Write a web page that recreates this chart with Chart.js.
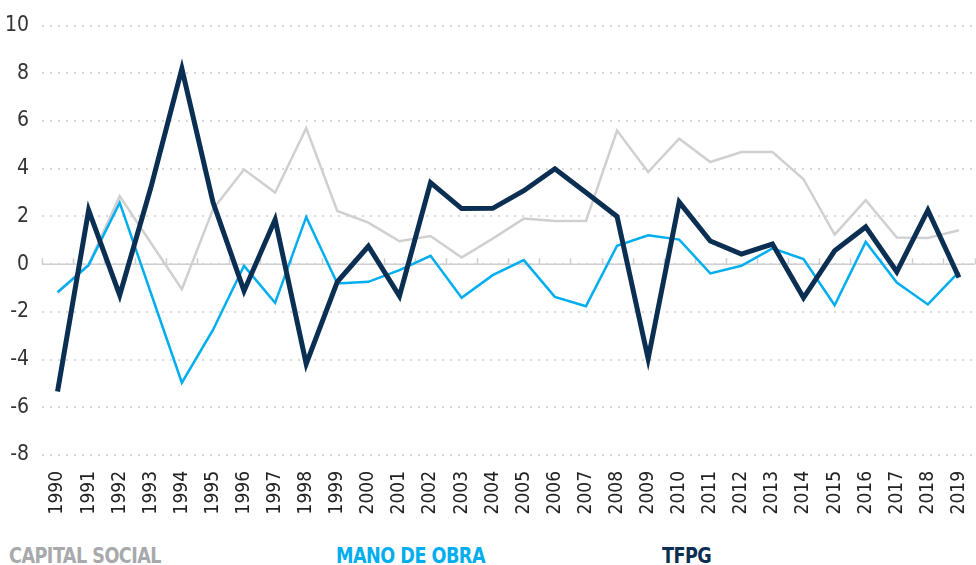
<!DOCTYPE html>
<html>
<head>
<meta charset="utf-8">
<script src="https://cdn.jsdelivr.net/npm/chart.js@4"></script>
<style>
    body { margin: 0; background: #fff; }
    #wrap { position: relative; width: 976px; height: 565px; overflow: hidden; }
    #chart { position: absolute; left: 0; top: 0; }
    .lg { position: absolute; top: 543px; font-family: "DejaVu Sans Condensed", "DejaVu Sans", sans-serif; font-weight: bold; font-size: 22px; letter-spacing: -0.6px; transform: scaleX(0.89); transform-origin: left top; white-space: nowrap; }
</style>
</head>
<body>
<div id="wrap">
    <canvas id="chart" width="976" height="520"></canvas>
    <div class="lg" style="left:9px;color:#a7a9ac">CAPITAL SOCIAL</div>
    <div class="lg" style="left:336px;color:#00aeef">MANO DE OBRA</div>
    <div class="lg" style="left:662px;color:#0b2f52">TFPG</div>
</div>
<script>
const years = ["1990","1991","1992","1993","1994","1995","1996","1997","1998","1999",
    "2000","2001","2002","2003","2004","2005","2006","2007","2008","2009",
    "2010","2011","2012","2013","2014","2015","2016","2017","2018","2019"];

const capitalSocial = [-1.2, 0.0, 2.85, 0.9, -1.05, 2.3, 3.97, 3.0, 5.7, 2.23,
    1.74, 0.96, 1.18, 0.28, 1.07, 1.91, 1.81, 1.81, 5.6, 3.86,
    5.26, 4.28, 4.7, 4.7, 3.56, 1.24, 2.68, 1.12, 1.1, 1.42];

const manoDeObra = [-1.18, -0.04, 2.58, -1.2, -4.97, -2.76, -0.07, -1.62, 1.98, -0.81,
    -0.74, -0.25, 0.35, -1.41, -0.46, 0.17, -1.37, -1.76, 0.77, 1.21,
    1.03, -0.39, -0.07, 0.66, 0.21, -1.72, 0.93, -0.77, -1.69, -0.32];

const tfpg = [-5.34, 2.26, -1.3, 3.2, 8.19, 2.6, -1.12, 1.87, -4.18, -0.74,
    0.75, -1.34, 3.42, 2.33, 2.34, 3.08, 4.0, 3.0, 2.0, -3.97,
    2.6, 0.97, 0.42, 0.84, -1.41, 0.56, 1.56, -0.32, 2.26, -0.56];

const yTicks = [-8, -6, -4, -2, 0, 2, 4, 6, 8, 10];

const fontFam = '"DejaVu Sans Condensed", "DejaVu Sans", sans-serif';

// zero line with small ticks between the years
const zeroAxis = {
    id: "zeroAxis",
    beforeDatasetsDraw(c) {
        const x = c.scales.x, y = c.scales.y, ctx = c.ctx;
        const y0 = y.getPixelForValue(0);
        const half = (x.getPixelForValue(1) - x.getPixelForValue(0)) / 2;
        ctx.save();
        ctx.strokeStyle = "#cfcfcf";
        ctx.lineWidth = 1.5;
        ctx.beginPath();
        ctx.moveTo(c.chartArea.left, y0);
        ctx.lineTo(c.chartArea.right, y0);
        for (let i = 0; i <= years.length; i++) {
            const px = Math.round(x.getPixelForValue(i) - half) + 0.5;
            ctx.moveTo(px, y0);
            ctx.lineTo(px, y0 - 6);
        }
        ctx.stroke();
        ctx.restore();
    }
};

new Chart(document.getElementById("chart"), {
    type: "line",
    data: {
        labels: years,
        datasets: [
            { label: "TFPG", data: tfpg, borderColor: "#0b2f52", borderWidth: 5, order: 1 },
            { label: "MANO DE OBRA", data: manoDeObra, borderColor: "#00aeef", borderWidth: 2.5, order: 2 },
            { label: "CAPITAL SOCIAL", data: capitalSocial, borderColor: "#d0d0d0", borderWidth: 2.5, order: 3 }
        ]
    },
    options: {
        responsive: false,
        animation: false,
        elements: {
            point: { radius: 0 },
            line: { tension: 0, borderJoinStyle: "miter", fill: false }
        },
        layout: { padding: { top: 25, right: 1.5, bottom: 5, left: 0 } },
        scales: {
            x: {
                offset: true,
                grid: { display: false },
                border: { display: false },
                ticks: {
                    minRotation: 90, maxRotation: 90, autoSkip: false, padding: 8,
                    color: "#222", font: { family: fontFam, size: 19 }
                },
                afterFit(s) { s.height = 60; s.paddingLeft = 0; s.paddingRight = 0; }
            },
            y: {
                min: -8, max: 10,
                afterBuildTicks(s) { s.ticks = yTicks.map(v => ({ value: v })); },
                grid: { color: "#d9d9d9", lineWidth: 2, drawTicks: false },
                border: { display: false, dash: [2, 6] },
                ticks: { padding: 13, color: "#333", font: { family: fontFam, size: 21 } },
                afterFit(s) { s.width = 42; }
            }
        },
        plugins: { legend: { display: false }, tooltip: { enabled: false } }
    },
    plugins: [zeroAxis]
});
</script>
</body>
</html>
